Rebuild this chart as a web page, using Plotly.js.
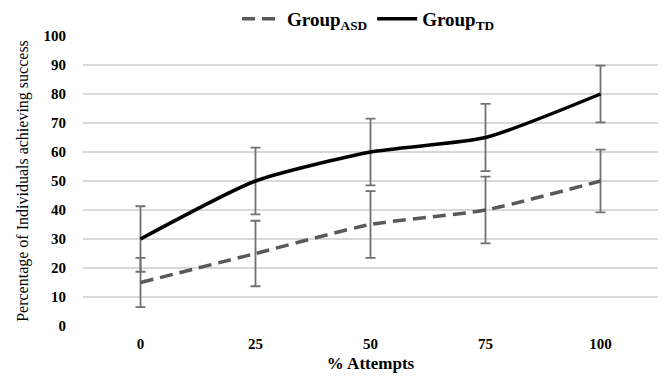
<!DOCTYPE html>
<html><head><meta charset="utf-8">
<script src="https://cdn.plot.ly/plotly-3.0.1.min.js"></script>
<style>html,body{margin:0;padding:0;background:#fff}#chart{width:664px;height:377px}</style>
</head><body><div id="chart"></div>
<script>
const categories = ["0", "25", "50", "75", "100"];
const asdValues = [15, 25, 35, 40, 50];
const asdErrors = [8.5, 11.3, 11.5, 11.5, 10.8];
const tdValues = [30, 50, 60, 65, 80];
const tdErrors = [11.3, 11.5, 11.5, 11.6, 9.8];
const yTicks = [0, 10, 20, 30, 40, 50, 60, 70, 80, 90, 100];

const font = "Liberation Serif, Times New Roman, serif";
const traces = [
  {x: categories, y: asdValues, name: "<b>Group<sub>ASD</sub></b>", type: "scatter", mode: "lines",
   line: {color: "#595959", width: 3.5, dash: "13px,7px", shape: "spline", smoothing: 0.6},
   error_y: {type: "data", array: asdErrors, visible: true, color: "#707070", thickness: 1.8, width: 5}},
  {x: categories, y: tdValues, name: "<b>Group<sub>TD</sub></b>", type: "scatter", mode: "lines",
   line: {color: "#000000", width: 3.5, shape: "spline", smoothing: 0.6},
   error_y: {type: "data", array: tdErrors, visible: true, color: "#707070", thickness: 1.8, width: 5}}
];
const layout = {
  width: 664, height: 377,
  margin: {l: 83, r: 6, t: 36, b: 51, autoexpand: false},
  paper_bgcolor: "#fff", plot_bgcolor: "#fff",
  font: {family: font, color: "#000"},
  showlegend: true,
  legend: {orientation: "h", x: 0.555, xanchor: "center", xref: "container", y: 1.0, yanchor: "top", yref: "container",
           font: {family: font, size: 19, color: "#000"}, tracegroupgap: 0, itemwidth: 40},
  xaxis: {type: "category", range: [-0.5, 4.5], showgrid: false, zeroline: false, showline: false,
          tickfont: {family: font, size: 15, color: "#000", weight: "bold"}, ticks: "", ticklabelstandoff: 7,
          title: {text: "<b>% Attempts</b>", font: {family: font, size: 17, color: "#000"}, standoff: 6}},
  yaxis: {range: [0, 100], tickvals: yTicks, ticktext: yTicks.map(String), showgrid: true, gridcolor: "#d9d9d9", gridwidth: 1.2,
          zeroline: false, showline: false, ticks: "", ticklabelstandoff: 16,
          tickfont: {family: font, size: 15, color: "#000", weight: "bold"},
          title: {text: "Percentage of Individuals achieving success", font: {family: font, size: 16, color: "#000"}, standoff: 10}}
};
Plotly.newPlot("chart", traces, layout, {displayModeBar: false, staticPlot: true});
</script></body></html>
